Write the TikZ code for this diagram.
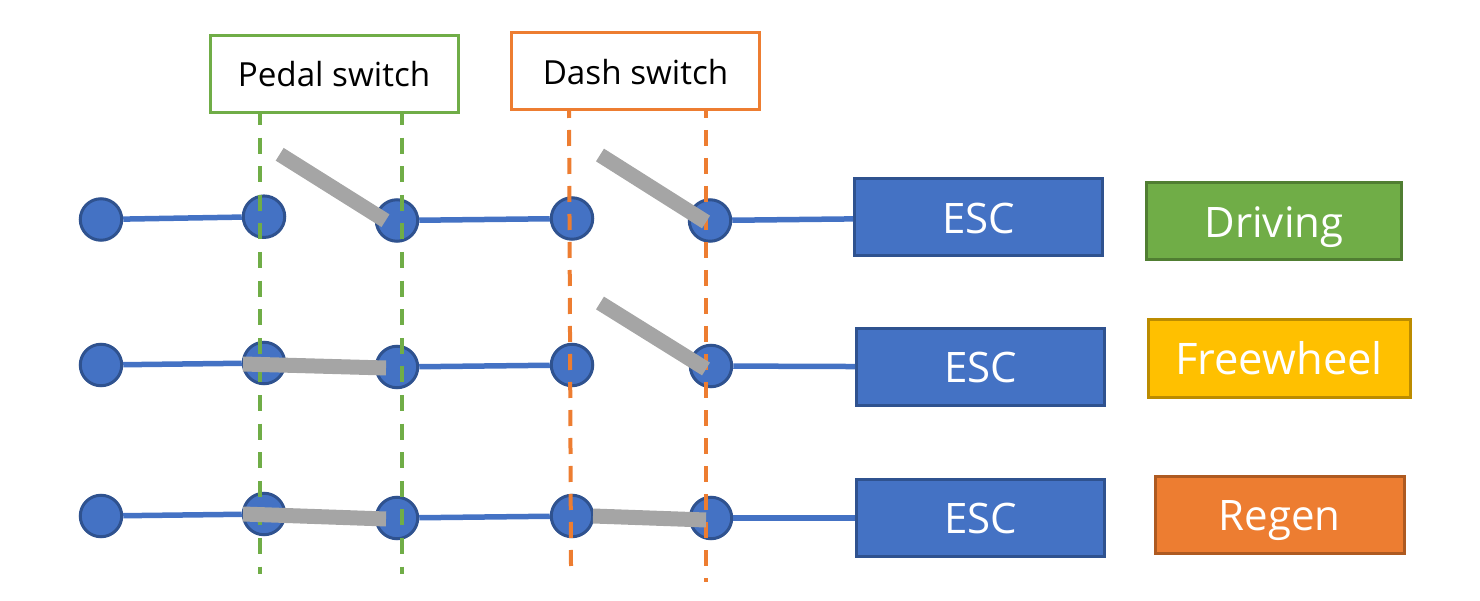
\documentclass[tikz,border=0pt]{standalone}
\usepackage{fontspec}
\setmainfont{Open Sans}
\definecolor{cblue}{HTML}{4472C4}
\definecolor{cblued}{HTML}{2F528F}
\definecolor{cgreen}{HTML}{70AD47}
\definecolor{cgreend}{HTML}{507E32}
\definecolor{corange}{HTML}{ED7D31}
\definecolor{coranged}{HTML}{AE5A21}
\definecolor{cyellow}{HTML}{FFC000}
\definecolor{cyellowd}{HTML}{BC8C00}
\definecolor{cgrey}{HTML}{A5A5A5}
\tikzset{
  terminal/.style={circle,draw=cblued,fill=cblue,line width=3pt,minimum size=41.5pt,inner sep=0pt},
  wire/.style={draw=cblue,line width=5.5pt},
  blade/.style={draw=cgrey,line width=15pt},
  lab/.style={draw=#1,fill=white,line width=3pt,text=black,font=\fontsize{33.2}{38}\selectfont,inner sep=0pt},
  state/.style n args={2}{draw=#2,fill=#1,line width=3pt,text=white,font=\fontsize{42}{48}\selectfont,inner sep=0pt},
  guideg/.style={draw=cgreen,line width=4pt,dash pattern=on 16pt off 12.6pt},
  guideo/.style={draw=corange,line width=4pt,dash pattern=on 16pt off 12pt},
}
\begin{document}
\begin{tikzpicture}[x=1pt,y=-1pt]
\useasboundingbox (0,0) rectangle (1480,601);
% terminals
\node[terminal] (a1) at (101,219.5) {};
\node[terminal] (b1) at (264,216.7) {};
\node[terminal] (c1) at (397,220.5) {};
\node[terminal] (d1) at (572,218.5) {};
\node[terminal] (e1) at (710,220.5) {};
\node[terminal] (a2) at (101,365) {};
\node[terminal] (b2) at (264,363) {};
\node[terminal] (c2) at (397,367) {};
\node[terminal] (d2) at (572,365) {};
\node[terminal] (e2) at (711,366) {};
\node[terminal] (a3) at (101,516) {};
\node[terminal] (b3) at (264,514) {};
\node[terminal] (c3) at (397,518) {};
\node[terminal] (d3) at (572,516) {};
\node[terminal] (e3) at (711,518) {};
% boxes
\node[state={cblue}{cblued},minimum width=248pt,minimum height=77pt,text height=32pt,text depth=0pt] (esc1) at (978.5,217.5) {ESC};
\node[state={cgreen}{cgreend},minimum width=255pt,minimum height=77pt,text height=32pt,text depth=0pt] (drv) at (1274,221.5) {Driving};
\node[state={cblue}{cblued},minimum width=248pt,minimum height=77pt,text height=30pt,text depth=0pt] (esc2) at (980.5,367) {ESC};
\node[state={cyellow}{cyellowd},minimum width=262pt,minimum height=77pt] (frw) at (1279,358.5) {\fontsize{43.5}{48}\selectfont Freewheel};
\node[state={cblue}{cblued},minimum width=248pt,minimum height=77pt,text height=30pt,text depth=0pt] (esc3) at (980.5,518) {ESC};
\node[state={corange}{coranged},minimum width=249pt,minimum height=77pt,text height=32pt,text depth=0pt] (rgn) at (1279.5,514.5) {Regen};
% wires
\foreach \r in {1,2,3}{
  \draw[wire] (a\r) -- (b\r);
  \draw[wire] (c\r) -- (d\r);
  \draw[wire] (e\r) -- (esc\r);
}
% guides
\coordinate (g1t) at (260,109); \coordinate (g1b) at (260,574);
\coordinate (g2t) at (402,109); \coordinate (g2b) at (402,574);
\coordinate (o1t) at (569,102); \coordinate (o1b) at (571,566);
\coordinate (o2t) at (706,102); \coordinate (o2b) at (706,582);
\draw[guideg] (g1t) -- (g1b);
\draw[guideg] (g2t) -- (g2b);
\draw[guideo] (o1t) -- (o1b);
\draw[guideo] (o2t) -- (o2b);
% switch boxes
\node[lab=cgreen,minimum width=248pt,minimum height=77pt] (ps) at (334,74) {Pedal switch};
\node[lab=corange,minimum width=248pt,minimum height=77pt,text height=27pt,text depth=0pt] (ds) at (635.5,71) {Dash switch};
% blades
\coordinate (s1a) at (279.7,154.3); \coordinate (s1b) at (385.5,220.7);
\coordinate (s2a) at (600,155); \coordinate (s2b) at (706,222);
\coordinate (s3a) at (600,303); \coordinate (s3b) at (706,369);
\coordinate (s4a) at (243,364); \coordinate (s4b) at (386,368);
\coordinate (s5a) at (243,514); \coordinate (s5b) at (386,519);
\coordinate (s6a) at (593,516); \coordinate (s6b) at (706,520);
\foreach \s in {1,...,6}{\draw[blade] (s\s a) -- (s\s b);}
\end{tikzpicture}
\end{document}
